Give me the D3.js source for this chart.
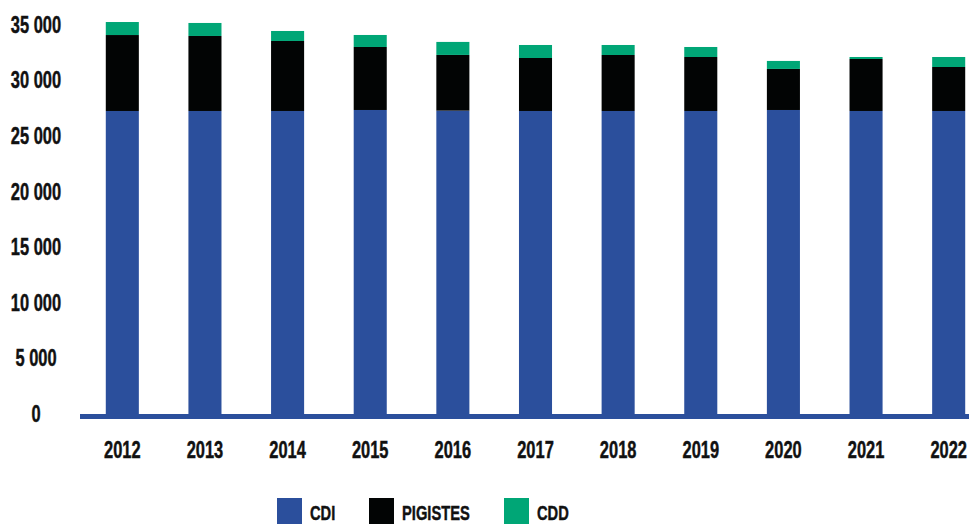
<!DOCTYPE html>
<html>
<head>
<meta charset="utf-8">
<script src="https://cdn.jsdelivr.net/npm/d3@7"></script>
<style>
  html, body { margin: 0; padding: 0; background: #fff; }
  svg { display: block; }
  text { font-family: "Liberation Sans", Arial, sans-serif; font-weight: bold; fill: #111; stroke: #111; stroke-width: 0.45px; }
</style>
</head>
<body>
<div id="chart"></div>
<script>
const YEARS = ['2012', '2013', '2014', '2015', '2016', '2017', '2018', '2019', '2020', '2021', '2022'];
const CDI = [27250, 27250, 27250, 27340, 27280, 27250, 27250, 27250, 27340, 27250, 27250];
const PIGISTES = [6830, 6745, 6295, 5665, 5010, 4765, 5035, 4855, 3690, 4675, 3955];
const CDD = [1170, 1170, 900, 1080, 1170, 1170, 900, 900, 720, 180, 900];
const Y_TICKS = [0, 5000, 10000, 15000, 20000, 25000, 30000, 35000];

const SERIES = [
  { key: 'CDI', label: 'CDI', values: CDI, color: '#2b4f9c' },
  { key: 'PIGISTES', label: 'PIGISTES', values: PIGISTES, color: '#020404' },
  { key: 'CDD', label: 'CDD', values: CDD, color: '#00a676' },
];

const WIDTH = 969;
const HEIGHT = 525;
// the original uses a tall condensed face; squeeze a regular bold one instead
const SQUEEZE = 'scale(0.7,1)';

const locale = d3.formatLocale({ decimal: ',', thousands: ' ', grouping: [3], currency: ['', ' €'] });
const fmt = locale.format(',');

const svg = d3.select('#chart').append('svg')
  .attr('width', WIDTH)
  .attr('height', HEIGHT);

const x = d3.scaleBand()
  .domain(YEARS)
  .range([81, 990])
  .paddingInner(0.6)
  .paddingOuter(0.3);

const y = d3.scaleLinear()
  .domain([0, 35000])
  .range([414, 24.8]);

// stack the three series per year
const rows = YEARS.map((yr, i) => {
  const r = { year: yr };
  SERIES.forEach((s) => { r[s.key] = s.values[i]; });
  return r;
});
const stacked = d3.stack().keys(SERIES.map((s) => s.key))(rows);

svg.append('g')
  .selectAll('g')
  .data(stacked)
  .join('g')
  .attr('fill', (d, i) => SERIES[i].color)
  .selectAll('rect')
  .data((d) => d)
  .join('rect')
  .attr('x', (d) => x(d.data.year))
  .attr('width', x.bandwidth())
  .attr('y', (d) => y(d[1]))
  .attr('height', (d) => y(d[0]) - y(d[1]));

// y labels, centred in the left margin
const yAxis = svg.append('g')
  .attr('transform', 'translate(36,0)')
  .call(d3.axisLeft(y).tickValues(Y_TICKS).tickSize(0).tickPadding(0).tickFormat(fmt));
yAxis.select('.domain').remove();
yAxis.selectAll('text')
  .attr('x', 0)
  .attr('text-anchor', 'middle')
  .attr('transform', SQUEEZE)
  .attr('font-size', '23.5px')
  .attr('font-family', null)
  .attr('fill', '#111');

// baseline
svg.append('line')
  .attr('x1', 80)
  .attr('x2', WIDTH)
  .attr('y1', y(0) + 2.5)
  .attr('y2', y(0) + 2.5)
  .attr('stroke', '#2b4f9c')
  .attr('stroke-width', 5);

// x labels
const xAxis = svg.append('g')
  .attr('transform', 'translate(0,441.5)')
  .call(d3.axisBottom(x).tickSize(0).tickPadding(0));
xAxis.select('.domain').remove();
xAxis.selectAll('text')
  .attr('dy', '0.71em')
  .attr('transform', SQUEEZE)
  .attr('font-size', '23.5px')
  .attr('font-family', null)
  .attr('fill', '#111');

// legend
const LEGEND_X = [277, 369, 504];
const legend = svg.append('g')
  .selectAll('g')
  .data(SERIES)
  .join('g')
  .attr('transform', (d, i) => `translate(${LEGEND_X[i]},498)`);
legend.append('rect')
  .attr('width', 25)
  .attr('height', 26)
  .attr('fill', (d) => d.color);
legend.append('text')
  .attr('transform', `translate(33,14) ${SQUEEZE}`)
  .attr('dy', '0.36em')
  .attr('font-size', '21px')
  .text((d) => d.label);
</script>
</body>
</html>
